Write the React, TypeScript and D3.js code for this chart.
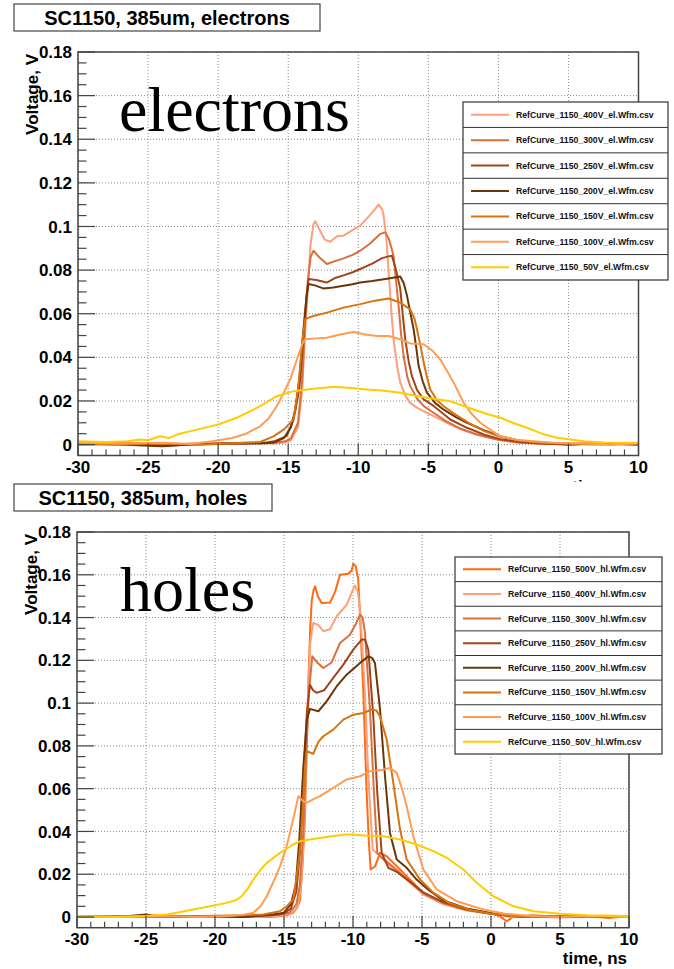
import React from "react";
import * as d3 from "d3";

type Pt = [number, number];

const timeTicks = [-30, -25, -20, -15, -10, -5, 0, 5, 10];
const voltTicks = [0, 0.02, 0.04, 0.06, 0.08, 0.1, 0.12, 0.14, 0.16, 0.18];
const voltLabels = ["0", "0.02", "0.04", "0.06", "0.08", "0.1", "0.12", "0.14", "0.16", "0.18"];

// electrons
const el400: Pt[] = [[-30,0.0008],[-28,0.0005],[-26,0.0],[-24,-0.0005],[-22,0.0005],[-20,0.0003],[-18,0.0008],[-16,0.0005],[-15.2,0.001],[-14.8,0.002],[-14.3,0.008],[-14.0,0.025],[-13.8,0.05],[-13.6,0.072],[-13.4,0.092],[-13.2,0.101],[-13.07,0.1024],[-12.8,0.099],[-12.4,0.094],[-12.0,0.093],[-11.5,0.0955],[-11.05,0.0958],[-10.5,0.098],[-9.86,0.1004],[-9.2,0.105],[-8.8,0.108],[-8.55,0.110],[-8.3,0.108],[-8.19,0.105],[-8.0,0.095],[-7.83,0.079],[-7.6,0.058],[-7.48,0.048],[-7.2,0.035],[-7.0,0.0284],[-6.6,0.022],[-6.29,0.019],[-5.7,0.0165],[-5.1,0.0146],[-4.3,0.012],[-3.43,0.0092],[-2.2,0.006],[-1.05,0.0038],[0.2,0.002],[1.33,0.001],[3,0.0005],[5,0.0],[7,0.0008],[10,0.0003]];
const el300: Pt[] = [[-30,0.0005],[-27,0.001],[-24,0.0],[-21,0.0005],[-18,0.0008],[-16,0.0008],[-15.2,0.0015],[-14.8,0.003],[-14.3,0.01],[-14.0,0.03],[-13.8,0.055],[-13.6,0.075],[-13.4,0.086],[-13.19,0.0889],[-12.8,0.086],[-12.24,0.0828],[-11.7,0.084],[-11.05,0.0854],[-10.4,0.087],[-9.86,0.0889],[-9.2,0.092],[-8.43,0.0966],[-8.07,0.0973],[-7.8,0.094],[-7.48,0.0866],[-7.3,0.075],[-7.12,0.0636],[-6.95,0.051],[-6.76,0.0406],[-6.5,0.031],[-6.29,0.0268],[-5.8,0.021],[-5.3,0.0175],[-4.6,0.0145],[-3.8,0.011],[-2.8,0.0075],[-1.5,0.0045],[0,0.0022],[1.5,0.001],[3.5,0.0003],[6,0.0005],[8,0.0],[10,0.0005]];
const el250: Pt[] = [[-30,0.0],[-27,0.0005],[-24,-0.0005],[-21,0.0003],[-18,0.0005],[-16.5,0.001],[-16,0.0015],[-15.1,0.004],[-14.62,0.0115],[-14.3,0.022],[-14.14,0.03],[-13.9,0.05],[-13.7,0.068],[-13.55,0.0759],[-13.0,0.0755],[-12.24,0.0743],[-11.6,0.0765],[-11.05,0.0776],[-10.4,0.079],[-9.86,0.0805],[-9.0,0.083],[-8.3,0.0855],[-7.83,0.0863],[-7.6,0.0866],[-7.3,0.08],[-7.0,0.0713],[-6.8,0.058],[-6.64,0.048],[-6.4,0.038],[-6.17,0.0314],[-5.8,0.025],[-5.33,0.0207],[-4.6,0.0176],[-4.0,0.0145],[-3.43,0.0115],[-2.24,0.0077],[-1,0.0045],[0.14,0.0025],[1.5,0.0012],[3,0.0005],[5,0.0],[7,0.0005],[10,0.0]];
const el200: Pt[] = [[-30,0.0003],[-27,0.0],[-24,-0.0008],[-22,0.0],[-19,0.0005],[-17,0.0005],[-16,0.001],[-15.3,0.003],[-14.8,0.008],[-14.5,0.016],[-14.2,0.03],[-13.95,0.05],[-13.7,0.067],[-13.55,0.0736],[-13.1,0.073],[-12.5,0.0716],[-11.8,0.072],[-11.05,0.0728],[-10.4,0.0735],[-9.86,0.0743],[-9.0,0.075],[-7.83,0.0762],[-7.0,0.0771],[-6.75,0.074],[-6.52,0.0682],[-6.3,0.061],[-6.05,0.0529],[-5.85,0.044],[-5.69,0.036],[-5.4,0.029],[-5.1,0.0238],[-4.5,0.019],[-3.9,0.016],[-3.0,0.0125],[-2.24,0.01],[-1,0.0065],[0.14,0.0038],[1.5,0.0018],[3,0.0008],[5,0.0],[7,0.0005],[10,0.0]];
const el150: Pt[] = [[-30,0.0005],[-27,0.0],[-24,0.0005],[-21,0.0],[-18,0.0008],[-17,0.0012],[-16.05,0.0038],[-15.3,0.007],[-14.62,0.0115],[-14.3,0.025],[-14.02,0.045],[-13.79,0.0575],[-13.2,0.059],[-12.24,0.0605],[-11.05,0.0628],[-9.86,0.0644],[-8.8,0.066],[-7.83,0.067],[-7.0,0.0651],[-6.29,0.062],[-6.0,0.058],[-5.81,0.0529],[-5.55,0.045],[-5.33,0.0376],[-5.1,0.031],[-4.86,0.0253],[-4.4,0.0205],[-3.9,0.0176],[-3.0,0.0135],[-2.0,0.0095],[-1,0.0062],[0.2,0.0035],[1.5,0.0018],[3,0.0008],[5,0.0003],[7,0.0],[10,0.0005]];
const el100: Pt[] = [[-30,0.0008],[-27,0.0005],[-24,0.0008],[-22,0.0003],[-20.4,0.0015],[-19,0.003],[-18,0.005],[-17,0.0084],[-16.4,0.012],[-15.81,0.0176],[-15.3,0.024],[-14.86,0.0299],[-14.38,0.039],[-14.0,0.046],[-13.79,0.0483],[-13.0,0.0487],[-12.24,0.049],[-11.3,0.0505],[-10.33,0.0516],[-9.5,0.0505],[-8.67,0.0498],[-7.83,0.0498],[-7.0,0.0483],[-6.29,0.0464],[-5.33,0.046],[-4.7,0.043],[-4.14,0.039],[-3.6,0.033],[-3.19,0.0284],[-2.48,0.0192],[-1.9,0.014],[-1.29,0.01],[-0.5,0.0065],[0.14,0.0038],[1.3,0.0022],[2.52,0.0015],[4,0.0008],[6,0.0005],[8,0.0],[10,0.0005]];
const el50: Pt[] = [[-30,0.0015],[-28,0.0012],[-26.5,0.0015],[-25.57,0.0023],[-25,0.002],[-24.14,0.0038],[-23.5,0.003],[-22.95,0.0046],[-21.29,0.0072],[-19.98,0.0092],[-18.67,0.0123],[-17.8,0.015],[-17.0,0.0176],[-15.81,0.0222],[-14.62,0.0245],[-13.19,0.0256],[-11.76,0.0265],[-10.5,0.026],[-9.38,0.0253],[-8.3,0.0248],[-7.0,0.0238],[-6.0,0.0225],[-5.1,0.0215],[-3.43,0.0199],[-2.6,0.018],[-1.76,0.0161],[-0.8,0.014],[0.14,0.0123],[1.1,0.0098],[2.05,0.0077],[3.1,0.005],[4.19,0.0031],[5,0.0025],[6.1,0.0015],[7.5,0.001],[10,0.0008]];

// holes
const hl500: Pt[] = [[-30,0.0005],[-27,0.0],[-24,0.0008],[-21,0.0],[-18,0.0005],[-16,0.0],[-14.8,0.0008],[-14.33,0.002],[-14.0,0.005],[-13.84,0.008],[-13.65,0.025],[-13.48,0.047],[-13.35,0.08],[-13.24,0.109],[-13.1,0.135],[-12.99,0.148],[-12.85,0.153],[-12.75,0.1546],[-12.55,0.15],[-12.27,0.1468],[-11.67,0.147],[-11.3,0.152],[-10.94,0.16],[-10.34,0.1605],[-10.1,0.162],[-9.98,0.1652],[-9.8,0.164],[-9.62,0.1577],[-9.45,0.135],[-9.25,0.1048],[-9.01,0.058],[-8.85,0.035],[-8.72,0.0222],[-8.4,0.0237],[-8.04,0.030],[-7.56,0.0284],[-6.83,0.0237],[-5.87,0.0175],[-4.9,0.0113],[-3.46,0.0066],[-1.76,0.0035],[-0.07,0.002],[0.6,0.0005],[1.14,-0.002],[1.6,0.0],[3,0.0008],[5,0.0],[7,0.0005],[8.5,-0.0005],[10,0.0005]];
const hl400: Pt[] = [[-30,0.0],[-27,0.0005],[-24,0.0],[-21,0.0005],[-18,0.0],[-15.5,0.0005],[-14.5,0.0015],[-14.0,0.005],[-13.75,0.015],[-13.55,0.04],[-13.4,0.07],[-13.25,0.105],[-13.1,0.128],[-12.88,0.1375],[-12.5,0.1365],[-12.15,0.1336],[-11.67,0.1345],[-11.18,0.1406],[-10.46,0.146],[-9.86,0.155],[-9.65,0.152],[-9.49,0.1437],[-9.13,0.1048],[-8.89,0.0658],[-8.57,0.0315],[-8.17,0.0292],[-7.56,0.0253],[-6.83,0.0215],[-5.87,0.016],[-4.9,0.0105],[-3.46,0.006],[-1.76,0.003],[0,0.0015],[1.5,0.0],[3,0.0005],[5,-0.0003],[7,0.0005],[10,0.0]];
const hl300: Pt[] = [[-30,0.0005],[-27,0.0],[-24,0.0005],[-21,0.0],[-18,0.0005],[-15.5,0.001],[-14.6,0.002],[-14.1,0.006],[-13.85,0.015],[-13.6,0.04],[-13.4,0.075],[-13.2,0.105],[-12.95,0.1219],[-12.6,0.119],[-12.15,0.1164],[-11.55,0.119],[-10.94,0.1281],[-10.22,0.132],[-9.8,0.137],[-9.49,0.1414],[-9.3,0.14],[-9.13,0.1328],[-8.77,0.097],[-8.48,0.058],[-8.24,0.030],[-7.9,0.0275],[-7.56,0.026],[-6.83,0.022],[-5.87,0.0165],[-4.9,0.011],[-3.46,0.0065],[-1.76,0.0033],[0,0.0015],[1.5,0.0005],[3,0.0],[5,0.0005],[7,0.0],[10,0.0005]];
const hl250: Pt[] = [[-30,0.0],[-27,0.0005],[-24,0.0],[-21,0.0005],[-18,0.0],[-16,0.0008],[-15,0.0015],[-14.5,0.004],[-14.1,0.012],[-13.85,0.03],[-13.6,0.06],[-13.35,0.095],[-13.12,0.1086],[-12.9,0.106],[-12.63,0.1048],[-12.1,0.106],[-11.43,0.1118],[-10.7,0.118],[-9.98,0.125],[-9.37,0.1297],[-9.13,0.1297],[-8.89,0.125],[-8.53,0.0938],[-8.24,0.058],[-7.92,0.030],[-7.44,0.023],[-6.8,0.021],[-5.87,0.0165],[-4.9,0.0115],[-3.46,0.007],[-1.76,0.0035],[0,0.0015],[1.5,0.0005],[3,0.0],[5,0.0005],[7,0.0],[10,0.0005]];
const hl200: Pt[] = [[-30,0.0005],[-27,0.0],[-25,0.0012],[-24,0.0],[-21,0.0005],[-18,0.0],[-16,0.001],[-15,0.002],[-14.5,0.006],[-14.15,0.015],[-13.9,0.035],[-13.6,0.07],[-13.35,0.092],[-13.12,0.0973],[-12.51,0.0962],[-11.91,0.1008],[-11.18,0.1079],[-10.46,0.1133],[-9.49,0.1188],[-8.89,0.1219],[-8.6,0.121],[-8.41,0.1188],[-8.04,0.097],[-7.68,0.0658],[-7.32,0.0393],[-6.83,0.0269],[-6.11,0.023],[-5.39,0.0175],[-4.5,0.0125],[-3.46,0.0078],[-1.76,0.004],[0,0.0018],[1.5,0.0005],[3,0.0],[5,0.0005],[7,0.0],[10,0.0005]];
const hl150: Pt[] = [[-30,0.0],[-27,0.0005],[-24,0.0],[-21,0.0005],[-18,0.0008],[-16.5,0.0012],[-15.29,0.0027],[-14.8,0.005],[-14.33,0.0082],[-14.1,0.018],[-13.84,0.0315],[-13.65,0.05],[-13.48,0.0705],[-13.36,0.0775],[-12.88,0.0763],[-12.5,0.082],[-12.15,0.0845],[-11.43,0.0876],[-10.7,0.0923],[-9.98,0.0946],[-9.25,0.0954],[-8.65,0.097],[-8.3,0.0965],[-8.04,0.0938],[-7.56,0.083],[-7.08,0.0627],[-6.59,0.0409],[-6.11,0.0269],[-5.14,0.0175],[-4.2,0.0115],[-3.0,0.0065],[-1.5,0.0033],[0,0.0015],[1.5,0.0005],[3,0.0],[5,0.0005],[7,0.0],[10,0.0005]];
const hl100: Pt[] = [[-30,0.0005],[-27,0.0],[-24,0.0005],[-21,0.0],[-19,0.0005],[-18,0.001],[-17.22,0.002],[-16.7,0.005],[-16.25,0.0097],[-15.8,0.016],[-15.29,0.0237],[-14.9,0.031],[-14.57,0.0393],[-14.25,0.048],[-13.96,0.0565],[-13.6,0.054],[-13.36,0.0534],[-12.9,0.055],[-12.39,0.0565],[-11.43,0.0604],[-10.46,0.0643],[-9.49,0.0658],[-8.77,0.0681],[-7.8,0.0689],[-7.32,0.0697],[-6.83,0.0674],[-6.45,0.06],[-6.11,0.0518],[-5.63,0.0378],[-4.9,0.0222],[-3.94,0.0129],[-2.49,0.0074],[-0.55,0.0035],[1,0.0015],[3,0.0005],[5,0.0],[7,0.0005],[10,0.0]];
const hl50: Pt[] = [[-30,0.0003],[-27,0.0],[-25,0.0005],[-23.5,0.0012],[-22.78,0.002],[-21.57,0.0035],[-20.36,0.005],[-19.15,0.0066],[-18.5,0.0078],[-18.07,0.0097],[-17.6,0.0135],[-17.22,0.0175],[-16.7,0.022],[-16.25,0.0253],[-15.29,0.030],[-14.33,0.0339],[-13.84,0.0354],[-13.12,0.0362],[-11.91,0.0374],[-10.58,0.0386],[-9.98,0.0386],[-9.0,0.038],[-7.8,0.0378],[-6.59,0.0362],[-5.39,0.0339],[-4.18,0.0308],[-3.21,0.0277],[-2.01,0.0222],[-1.04,0.016],[0.17,0.0097],[1.62,0.005],[3.07,0.0027],[5.0,0.0015],[7,0.0008],[10,0.0005]];

const elNames = ["RefCurve_1150_400V_el.Wfm.csv","RefCurve_1150_300V_el.Wfm.csv","RefCurve_1150_250V_el.Wfm.csv","RefCurve_1150_200V_el.Wfm.csv","RefCurve_1150_150V_el.Wfm.csv","RefCurve_1150_100V_el.Wfm.csv","RefCurve_1150_50V_el.Wfm.csv"];
const elData = [el400, el300, el250, el200, el150, el100, el50];
const elColors = ["#fca07c", "#d8703f", "#a2441c", "#6c3606", "#d8740f", "#ff9d55", "#ffcc00"];

const hlNames = ["RefCurve_1150_500V_hl.Wfm.csv","RefCurve_1150_400V_hl.Wfm.csv","RefCurve_1150_300V_hl.Wfm.csv","RefCurve_1150_250V_hl.Wfm.csv","RefCurve_1150_200V_hl.Wfm.csv","RefCurve_1150_150V_hl.Wfm.csv","RefCurve_1150_100V_hl.Wfm.csv","RefCurve_1150_50V_hl.Wfm.csv"];
const hlData = [hl500, hl400, hl300, hl250, hl200, hl150, hl100, hl50];
const hlColors = ["#ff6a14", "#fca07c", "#d8703f", "#a2441c", "#6c3606", "#d8740f", "#ff9d55", "#ffcc00"];

const SANS = "'Liberation Sans', Arial, Helvetica, sans-serif";
const SERIF = "'Liberation Serif', 'Times New Roman', serif";

type PanelProps = {
  left: number; right: number; top: number; bottom: number;
  title: string; titleBox: [number, number, number, number];
  bigText: string; bigX: number; bigY: number;
  names: string[]; data: Pt[][]; colors: string[];
  legend: [number, number, number, number];
  axisTitleClipY?: number; id: string;
};

function Panel(p: PanelProps) {
  const x = d3.scaleLinear().domain([-30, 10]).range([p.left, p.right]);
  const y = d3.scaleLinear().domain([-0.005, 0.18]).range([p.bottom, p.top]);
  const line = d3.line<Pt>().x(d => x(d[0])).y(d => y(d[1])).curve(d3.curveLinear);
  const minorX = d3.range(-30, 10.001, 1);
  const minorY = d3.range(0, 0.1801, 0.005);
  const [lx, ly, lw, lh] = p.legend;
  const rowH = lh / p.names.length;
  const [tx, ty, tw, th] = p.titleBox;
  return (
    <g>
      <defs>
        <clipPath id={"frame-" + p.id}>
          <rect x={p.left} y={p.top} width={p.right - p.left} height={p.bottom - p.top} />
        </clipPath>
        {p.axisTitleClipY !== undefined && (
          <clipPath id={"xt-" + p.id}>
            <rect x={0} y={0} width={674} height={p.axisTitleClipY} />
          </clipPath>
        )}
      </defs>
      {timeTicks.map(t => (
        <line key={"gx" + t} x1={x(t)} x2={x(t)} y1={p.top} y2={p.bottom} stroke="#8a8a8a" strokeWidth={1} strokeDasharray="1 2" />
      ))}
      {voltTicks.map(v => (
        <line key={"gy" + v} x1={p.left} x2={p.right} y1={y(v)} y2={y(v)} stroke="#8a8a8a" strokeWidth={1} strokeDasharray="1 2" />
      ))}
      <text x={p.bigX} y={p.bigY} fontFamily={SERIF} fontSize={64} fill="#000">{p.bigText}</text>
      <g clipPath={`url(#frame-${p.id})`}>
        {p.data.map((d, i) => (
          <path key={i} d={line(d) || ""} fill="none" stroke={p.colors[i]} strokeWidth={2} strokeLinejoin="round" />
        ))}
      </g>
      {minorY.map((v, i) => {
        const major = i % 4 === 0;
        return <line key={"ty" + i} x1={p.left} x2={p.left + (major ? 17 : 8.5)} y1={y(v)} y2={y(v)} stroke="#444" strokeWidth={1.2} />;
      })}
      {minorX.map((t, i) => {
        const major = i % 5 === 0;
        return <line key={"tx" + i} x1={x(t)} x2={x(t)} y1={p.bottom} y2={p.bottom - (major ? 12 : 6)} stroke="#444" strokeWidth={1.2} />;
      })}
      <rect x={p.left} y={p.top} width={p.right - p.left} height={p.bottom - p.top} fill="none" stroke="#444" strokeWidth={1.5} />
      {voltTicks.map((v, i) => (
        <text key={"ly" + i} x={p.left - 6} y={y(v)} dy="0.36em" textAnchor="end" fontFamily={SANS} fontWeight="bold" fontSize={17} fill="#000">{voltLabels[i]}</text>
      ))}
      {timeTicks.map(t => (
        <text key={"lx" + t} x={x(t)} y={p.bottom + 17} textAnchor="middle" fontFamily={SANS} fontWeight="bold" fontSize={17} fill="#000">{t}</text>
      ))}
      <text transform={`translate(${p.left - 40},${p.top + 2}) rotate(-90)`} textAnchor="end" fontFamily={SANS} fontWeight="bold" fontSize={17} fill="#000">Voltage, V</text>
      <g clipPath={p.axisTitleClipY !== undefined ? `url(#xt-${p.id})` : undefined}>
        <text x={p.right - 2} y={p.bottom + 36} textAnchor="end" fontFamily={SANS} fontWeight="bold" fontSize={17} fill="#000">time, ns</text>
      </g>
      <rect x={tx} y={ty} width={tw} height={th} fill="#fff" stroke="#444" strokeWidth={1.2} />
      <text x={tx + tw / 2} y={ty + th - 6} textAnchor="middle" fontFamily={SANS} fontWeight="bold" fontSize={20} fill="#000">{p.title}</text>
      <rect x={lx} y={ly} width={lw} height={lh} fill="#fff" stroke="#333" strokeWidth={1.2} />
      {p.names.map((n, i) => {
        const cy = ly + rowH * (i + 0.5);
        return (
          <g key={"lg" + i}>
            {i > 0 && <line x1={lx} x2={lx + lw} y1={ly + rowH * i} y2={ly + rowH * i} stroke="#333" strokeWidth={1} />}
            <line x1={lx + 8} x2={lx + 46} y1={cy} y2={cy} stroke={p.colors[i]} strokeWidth={2} />
            <text x={lx + 53} y={cy} dy="0.35em" fontFamily={SANS} fontWeight="bold" fontSize={8.7} fill="#111">{n}</text>
          </g>
        );
      })}
    </g>
  );
}

export default function App() {
  return (
    <svg width={674} height={969} style={{ position: "absolute", left: 0, top: 0, display: "block", background: "#fff" }}>
      <rect x={0} y={0} width={674} height={969} fill="#fff" />
      <Panel id="el" left={78} right={638.5} top={52} bottom={455.5}
        title="SC1150, 385um, electrons" titleBox={[14, 4, 306, 27]}
        bigText="electrons" bigX={119} bigY={131}
        names={elNames} data={elData} colors={elColors}
        legend={[463, 102, 205, 178]} axisTitleClipY={481.5} />
      <Panel id="hl" left={77} right={629} top={532} bottom={927.7}
        title="SC1150, 385um, holes" titleBox={[14, 484, 258, 27]}
        bigText="holes" bigX={120} bigY={611}
        names={hlNames} data={hlData} colors={hlColors}
        legend={[455, 557, 207, 197]} />
    </svg>
  );
}
